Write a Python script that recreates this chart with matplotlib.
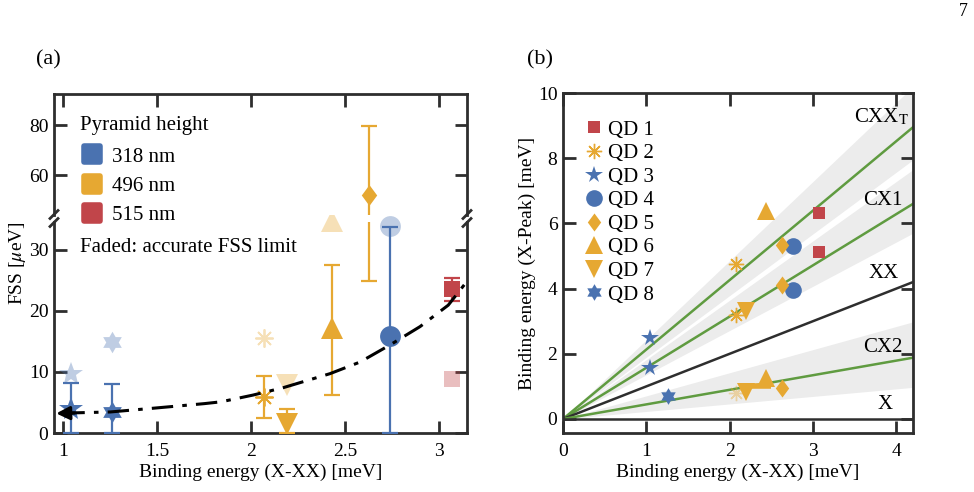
import matplotlib.pyplot as plt
import numpy as np
from matplotlib.lines import Line2D
from matplotlib.markers import MarkerStyle
from matplotlib.path import Path

plt.rcParams['font.family'] = ['Liberation Serif', 'DejaVu Serif']
plt.rcParams['mathtext.fontset'] = 'stix'

BLUE = '#4a72b0'
ORANGE = '#e6a832'
RED = '#c1454a'
GREEN = '#5f9b40'
BAND = '#ececec'
DARK = '#2e2e2e'

# one entry per quantum dot (QD 1 .. QD 8)
qd_names = ['QD 1', 'QD 2', 'QD 3', 'QD 4', 'QD 5', 'QD 6', 'QD 7', 'QD 8']
qd_colors = [RED, ORANGE, BLUE, BLUE, ORANGE, ORANGE, ORANGE, BLUE]

# panel (a): FSS vs binding energy
binding_x_xx = [3.07, 2.07, 1.04, 2.74, 2.63, 2.43, 2.19, 1.26]
fss = [23.5, 5.9, 4.0, 15.9, 52.0, 17.1, 1.4, 3.4]
fss_bar_lo = [21.6, 2.5, 0.0, 0.0, 24.8, 6.2, 0.0, 0.0]
fss_bar_hi = [25.3, 9.3, 8.2, 33.7, 79.6, 27.5, 4.0, 8.0]
fss_limit = [8.8, 15.5, 9.6, 33.9, np.nan, 34.6, 7.9, 14.9]

# dash-dot guide curve
guide_x = [1.0, 1.25, 1.46, 1.75, 1.84, 2.01, 2.17, 2.42, 2.58, 2.74, 2.90, 3.05, 3.15]
guide_y = [3.25, 3.44, 4.0, 4.8, 5.1, 6.2, 7.4, 9.7, 11.6, 14.4, 17.4, 20.9, 24.8]

pyramid_labels = ['318 nm', '496 nm', '515 nm']
pyramid_colors = [BLUE, ORANGE, RED]

# panel (b): binding energy (X-Peak) per QD, several peaks per dot
peak_x = [[3.07, 3.07], [2.08, 2.08], [1.04, 1.04], [2.76, 2.76],
          [2.63, 2.63, 2.63], [2.43, 2.43], [2.20, 2.20], [1.26]]
peak_y = [[6.33, 5.13], [4.74, 3.20], [2.48, 1.56], [5.30, 3.95],
          [5.35, 4.12, 0.96], [6.38, 1.25], [3.30, 0.84], [0.72]]
faded_peak_x = [2.08]
faded_peak_y = [0.79]
blob_x = [2.12, 2.50]
blob_y = [1.02, 1.02]

# model lines (value at x = 4.2) with their grey uncertainty bands
line_names = ['CXX$_\\mathrm{T}$', 'CX1', 'XX', 'CX2', 'X']
line_end = [8.95, 6.60, 4.20, 1.88, 0.0]
band_lo_end = [7.95, 5.70, np.nan, 0.97, np.nan]
band_hi_end = [10.2, 7.65, np.nan, 2.98, np.nan]
line_colors = [GREEN, GREEN, DARK, GREEN, DARK]
label_pos = [(4.15, 9.25), (4.08, 6.7), (4.03, 4.45), (4.08, 2.2), (3.96, 0.45)]

hexagram = Path.unit_regular_star(6, 0.58)
diamond = Path([(0, 1), (0.74, 0), (0, -1), (-0.74, 0), (0, 1)], closed=True)
qd_markers = ['s', (8, 2, 0), '*', 'o', diamond, '^', 'v', hexagram]
ms_a = [12, 13, 18, 15, 15, 16, 16, 15.5]
ms_b = [8.8, 11, 13, 12, 13, 12.5, 12.5, 12]

fig = plt.figure(figsize=(9.74, 4.92), dpi=100)
W, H = 974, 492


def fbox(l, t, r, b):
    return [l / W, 1 - b / H, (r - l) / W, (b - t) / H]


ax_lo = fig.add_axes(fbox(54, 222, 467, 433))
ax_hi = fig.add_axes(fbox(54, 94, 467, 215))
ax_b = fig.add_axes(fbox(563, 93, 913, 433))

for ax in (ax_lo, ax_hi, ax_b):
    for s in ax.spines.values():
        s.set_linewidth(2)
        s.set_color(DARK)
    ax.tick_params(direction='in', length=9, width=2, color=DARK,
                   top=True, right=True, labelsize=14, pad=4)
    ax.tick_params(axis='x', pad=7)

# ---------- panel (a)
for i in range(8):
    c = qd_colors[i]
    mk = MarkerStyle(qd_markers[i])
    lw = 1.3 if i == 1 else 0
    ax_lo.plot(binding_x_xx[i], fss_limit[i], ls='none', marker=mk, ms=ms_a[i],
               color=c, alpha=0.35, mew=lw, clip_on=False, zorder=2)
    for ax in (ax_lo, ax_hi):
        ax.errorbar(binding_x_xx[i], fss[i],
                    yerr=[[fss[i] - fss_bar_lo[i]], [fss_bar_hi[i] - fss[i]]],
                    fmt='none', ecolor=c, elinewidth=1.6, capsize=6, capthick=1.6,
                    zorder=3)
        ax.plot(binding_x_xx[i], fss[i], ls='none', marker=mk, ms=ms_a[i], color=c,
                mew=lw, zorder=4)
for ax in (ax_lo, ax_hi):
    ax.plot(guide_x, guide_y, color='black', lw=2.2, dashes=(7, 3, 1.5, 3), zorder=5)
    ax.set_xlim(0.95, 3.15)
    ax.set_xticks([1, 1.5, 2, 2.5, 3])
    ax.set_xticklabels(['1', '1.5', '2', '2.5', '3'])

ax_lo.annotate('', xy=(0.962, guide_y[0] - 0.05), xytext=(1.06, guide_y[0] + 0.02),
               arrowprops=dict(arrowstyle='-|>', color='black', lw=2.2,
                               mutation_scale=20, shrinkA=0, shrinkB=0),
               annotation_clip=False, zorder=6)

ax_lo.set_ylim(0, 34.5)
ax_lo.set_yticks([0, 10, 20, 30])
ax_lo.spines['top'].set_visible(False)
ax_lo.tick_params(top=False)
ax_hi.set_ylim(44, 92.4)
ax_hi.set_yticks([60, 80])
ax_hi.spines['bottom'].set_visible(False)
ax_hi.tick_params(bottom=False, labelbottom=False)
ax_lo.set_xlabel('Binding energy (X-XX) [meV]', fontsize=14, labelpad=3)

# break marks
for xb in (54, 467):
    for yb in (214.5, 222.5):
        fig.add_artist(Line2D([(xb - 4) / W, (xb + 4) / W],
                              [1 - (yb + 4) / H, 1 - (yb - 4) / H],
                              color=DARK, lw=2))

fig.text(17 / W, 1 - 263 / H, 'FSS [$\\mu$eV]', rotation=90, ha='center',
         va='center', fontsize=14)

handles = [Line2D([], [], ls='none',
                  marker=MarkerStyle('s', joinstyle='round'), ms=11, mew=4,
                  color=c) for c in pyramid_colors]
fig.text(80 / W, 1 - 125 / H, 'Pyramid height', fontsize=15, va='center', ha='left')
fig.legend(handles, pyramid_labels, loc='upper left',
           bbox_to_anchor=(82 / W, 1 - 147 / H), frameon=False, fontsize=15,
           handlelength=1.0, handletextpad=0.45, labelspacing=0.47, borderpad=0,
           borderaxespad=0)
fig.text(80 / W, 1 - 248 / H, 'Faded: accurate FSS limit', fontsize=15,
         va='center', ha='left')

# ---------- panel (b)
xe = [0, 4.2]
for i in range(5):
    if not np.isnan(band_lo_end[i]):
        ax_b.fill_between(xe, [0, band_lo_end[i]], [0, band_hi_end[i]],
                          color=BAND, lw=0, zorder=1)
for i in range(5):
    ax_b.plot(xe, [0, line_end[i]], color=line_colors[i], lw=1.8, zorder=2)
    ax_b.text(label_pos[i][0], label_pos[i][1], line_names[i], ha='right',
              va='center', fontsize=15, zorder=3)

ax_b.plot(blob_x, blob_y, color=ORANGE, lw=4, solid_capstyle='butt', zorder=3)
ax_b.plot(faded_peak_x, faded_peak_y, ls='none', marker=(8, 2, 0), ms=ms_b[1],
          color=ORANGE, alpha=0.4, mew=1.0, zorder=4)
for i in range(8):
    ax_b.plot(peak_x[i], peak_y[i], ls='none', marker=qd_markers[i], ms=ms_b[i],
              color=qd_colors[i], mew=1.0 if i == 1 else 0, label=qd_names[i],
              zorder=5)

ax_b.set_xlim(0, 4.2)
ax_b.set_ylim(-0.43, 10)
ax_b.set_xticks([0, 1, 2, 3, 4])
ax_b.set_yticks([0, 2, 4, 6, 8, 10])
ax_b.set_xlabel('Binding energy (X-XX) [meV]', fontsize=14, labelpad=3)
ax_b.set_ylabel('Binding energy (X-Peak) [meV]', fontsize=14, labelpad=1)
ax_b.legend(loc='upper left', bbox_to_anchor=(0.06, 0.92), frameon=False,
            fontsize=15, handlelength=1.0, handletextpad=0.15, labelspacing=0.19,
            borderpad=0, borderaxespad=0)

fig.text(48 / W, 1 - 60 / H, '(a)', fontsize=16, ha='center', va='center')
fig.text(540 / W, 1 - 60 / H, '(b)', fontsize=16, ha='center', va='center')
fig.text(963 / W, 1 - 12 / H, '7', fontsize=13, ha='center', va='center')

fig.savefig('out.png', dpi=100)
